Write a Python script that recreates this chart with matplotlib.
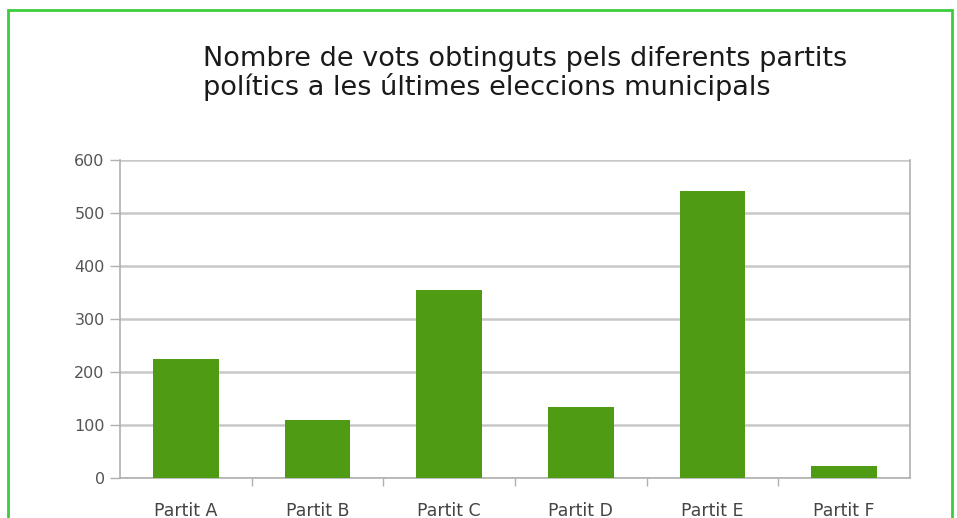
import matplotlib.pyplot as plt
from matplotlib.patches import Rectangle

# Dades
partits = ['Partit A', 'Partit B', 'Partit C', 'Partit D', 'Partit E', 'Partit F']
vots = [224, 110, 355, 134, 541, 23]
yticks = [0, 100, 200, 300, 400, 500, 600]

titol = ('Nombre de vots obtinguts pels diferents partits\n'
         'polítics a les últimes eleccions municipals')

color_barra = '#4f9b14'
color_vora = '#3ccc3c'
color_graella = '#c8c8c8'

fig = plt.figure(figsize=(9.57, 5.18), dpi=100)
ax = fig.add_axes([120/957, 1 - 478/518, 790/957, 318/518])

x = list(range(len(partits)))
ax.bar(x, vots, width=0.5, color=color_barra, zorder=3)

ax.set_xlim(-0.5, len(partits) - 0.5)
ax.set_ylim(0, 600)
ax.set_yticks(yticks)
ax.set_xticks(x)
ax.set_xticklabels(partits)
ax.set_xticks([i + 0.5 for i in x[:-1]], minor=True)

ax.tick_params(axis='x', which='major', length=0, pad=17, labelsize=12.5, labelcolor='#444444')
ax.tick_params(axis='x', which='minor', length=6, color='#b0b0b0', width=1)
ax.tick_params(axis='y', length=7, color='#b0b0b0', width=1, pad=4,
               labelsize=11.5, labelcolor='#555555')

ax.grid(axis='y', color=color_graella, linewidth=1.8, zorder=0)
for s in ['left', 'right', 'bottom']:
    ax.spines[s].set_color('#b0b0b0')
    ax.spines[s].set_linewidth(1.2)
ax.spines['top'].set_visible(False)

fig.text(203/957, 1 - 46/518, titol, ha='left', va='top', fontsize=19.5,
         color='#1a1a1a', linespacing=1.05)

# vora verda
fig.patches.append(Rectangle((8/957, -0.1), 944/957, 1.1 - 10/518,
                             transform=fig.transFigure, fill=False,
                             edgecolor=color_vora, linewidth=2))

fig.savefig('out.png', dpi=100)
